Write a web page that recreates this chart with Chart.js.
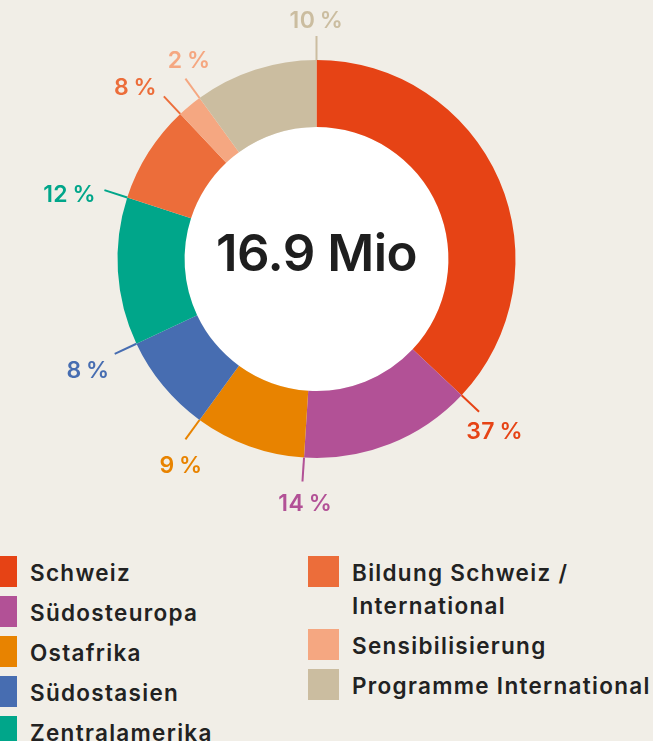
<!DOCTYPE html>
<html>
<head>
<meta charset="utf-8">
<script src="https://cdn.jsdelivr.net/npm/chart.js@4"></script>
<style>
  html, body { margin: 0; padding: 0; background: #f1eee7; width: 653px; height: 741px; overflow: hidden; }
  #wrap { position: relative; width: 653px; height: 741px; overflow: hidden; }
  #chartBox { position: absolute; left: 0; top: 0; width: 653px; height: 540px; }
  .legend { position: absolute; top: 556px; font-family: Inter, "Noto Sans", sans-serif; font-weight: 600; font-size: 22.5px; letter-spacing: 1.3px; color: #222; line-height: 33px; }
  .legend .item { position: relative; padding-left: 44px; margin-bottom: 7px; }
  .legend .sw { position: absolute; left: 0; top: 0; width: 31px; height: 31px; }
  #legL { left: -14px; width: 300px; }
  #legR { left: 308px; width: 360px; }
</style>
</head>
<body>
<div id="wrap">
  <div id="chartBox"><canvas id="c"></canvas></div>
  <div class="legend" id="legL"></div>
  <div class="legend" id="legR"></div>
</div>
<script>
const categories = ['Schweiz', 'Südosteuropa', 'Ostafrika', 'Südostasien', 'Zentralamerika', 'Bildung Schweiz / International', 'Sensibilisierung', 'Programme International'];
const shares = [37, 14, 9, 8, 12, 8, 2, 10];
const colors = ['#e64315', '#b25196', '#e88300', '#476db1', '#00a68a', '#ec6d3a', '#f5a781', '#cbbda0'];
const centerLabel = '16.9 Mio';
const legendLeftCount = 5;
// small layout nudges for the percentage labels (px)
const labelNudge = [[-11, 8], [5, 5], [13, 12], [0, 9], [-2, 9], [-8, 2], [21, -6], [0, 0]];

function buildLegend() {
  const L = document.getElementById('legL'), R = document.getElementById('legR');
  categories.forEach((name, i) => {
    const d = document.createElement('div');
    d.className = 'item';
    const s = document.createElement('span');
    s.className = 'sw';
    s.style.background = colors[i];
    d.appendChild(s);
    d.appendChild(document.createTextNode(name));
    (i < legendLeftCount ? L : R).appendChild(d);
  });
}
buildLegend();

const labelsPlugin = {
  id: 'ringLabels',
  beforeDatasetsDraw(chart) {
    const arc = chart.getDatasetMeta(0).data[0];
    const ctx = chart.ctx;
    ctx.save();
    ctx.fillStyle = '#ffffff';
    ctx.beginPath();
    ctx.arc(arc.x, arc.y, arc.innerRadius, 0, Math.PI * 2);
    ctx.fill();
    ctx.restore();
  },
  afterDatasetsDraw(chart) {
    const ctx = chart.ctx;
    const meta = chart.getDatasetMeta(0);
    const fs = 23;
    ctx.save();
    meta.data.forEach((arc, i) => {
      const a = arc.endAngle;
      const ux = Math.cos(a), uy = Math.sin(a);
      const r0 = arc.outerRadius, r1 = arc.outerRadius + 24;
      const x1 = arc.x + ux * r1, y1 = arc.y + uy * r1;
      ctx.strokeStyle = colors[i];
      ctx.lineWidth = 2;
      ctx.beginPath();
      ctx.moveTo(arc.x + ux * r0, arc.y + uy * r0);
      ctx.lineTo(x1, y1);
      ctx.stroke();
      const txt = shares[i] + '\u2009%';
      ctx.font = '600 ' + fs + 'px Inter, "Noto Sans", sans-serif';
      ctx.letterSpacing = '0.5px';
      const w = ctx.measureText(txt).width;
      const h = 17, gap = 8;
      const cx = x1 + ux * gap + ux * w / 2 + labelNudge[i][0];
      const cy = y1 + uy * gap + uy * h / 2 + labelNudge[i][1];
      ctx.fillStyle = colors[i];
      ctx.textAlign = 'center';
      ctx.textBaseline = 'alphabetic';
      ctx.fillText(txt, cx, cy + fs * 0.36);
    });
    const arc = meta.data[0];
    ctx.fillStyle = '#1e1e1e';
    ctx.letterSpacing = '-0.5px';
    ctx.font = '600 51px Inter, "Noto Sans", sans-serif';
    ctx.textAlign = 'center';
    ctx.textBaseline = 'alphabetic';
    ctx.fillText(centerLabel, arc.x, arc.y - 6 + 51 * 0.36);
    ctx.restore();
  }
};

new Chart(document.getElementById('c'), {
  type: 'doughnut',
  data: {
    labels: categories,
    datasets: [{ data: shares, backgroundColor: colors, borderWidth: 0, hoverOffset: 0 }]
  },
  options: {
    responsive: true,
    maintainAspectRatio: false,
    animation: false,
    cutout: '66.3%',
    layout: { padding: { left: 117, top: 60, right: 137, bottom: 82 } },
    plugins: { legend: { display: false }, tooltip: { enabled: false } },
    events: []
  },
  plugins: [labelsPlugin]
});
</script>
</body>
</html>
